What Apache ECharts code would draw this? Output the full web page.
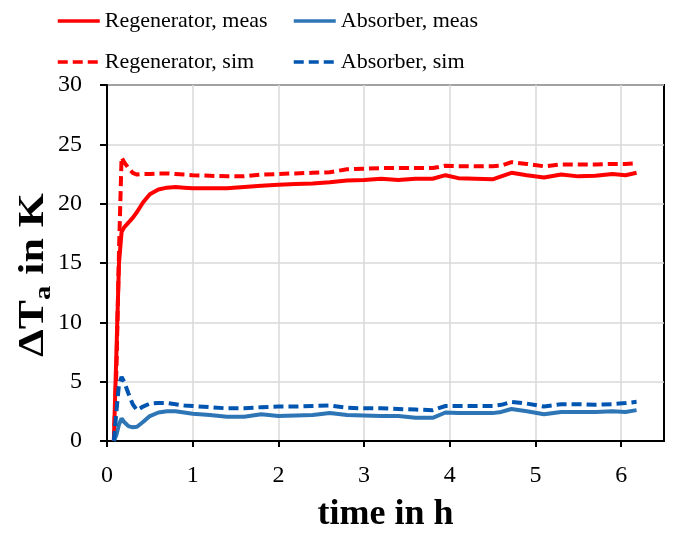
<!DOCTYPE html>
<html>
<head>
<meta charset="utf-8">
<script src="https://cdn.jsdelivr.net/npm/echarts@6/dist/echarts.min.js"></script>
<style>
  html, body { margin: 0; padding: 0; background: #fff; }
  #chart { width: 674px; height: 538px; }
</style>
</head>
<body>
<div id="chart"></div>
<script>
// time in h
const hours = [0.08, 0.11, 0.14, 0.17, 0.2, 0.25, 0.3, 0.35, 0.42, 0.5, 0.6, 0.7, 0.8, 0.9, 1.0,
  1.2, 1.4, 1.6, 1.8, 2.0, 2.2, 2.4, 2.6, 2.8, 3.0, 3.2, 3.4, 3.6, 3.8, 3.95, 4.1, 4.3, 4.5,
  4.6, 4.72, 4.9, 5.1, 5.3, 5.5, 5.7, 5.9, 6.05, 6.18];

const regenMeas = [0, 7.5, 15, 17.6, 18.0, 18.4, 18.8, 19.3, 20.1, 20.8, 21.2, 21.35, 21.4, 21.35, 21.3,
  21.3, 21.3, 21.4, 21.5, 21.6, 21.65, 21.7, 21.8, 21.95, 22.0, 22.1, 22.0, 22.1, 22.1, 22.4, 22.15, 22.1, 22.05,
  22.3, 22.6, 22.4, 22.2, 22.45, 22.3, 22.35, 22.5, 22.4, 22.6];

const regenSim = [0, 6, 16, 23.9, 23.5, 23.0, 22.6, 22.45, 22.5, 22.5, 22.55, 22.55, 22.5, 22.45, 22.4,
  22.35, 22.3, 22.3, 22.45, 22.5, 22.55, 22.6, 22.65, 22.9, 22.95, 23.0, 23.0, 23.0, 23.0, 23.2, 23.15, 23.15, 23.15,
  23.2, 23.5, 23.35, 23.15, 23.3, 23.3, 23.3, 23.35, 23.35, 23.4];

const absMeas = [0, 0.5, 1.4, 1.9, 1.6, 1.25, 1.15, 1.2, 1.6, 2.1, 2.4, 2.5, 2.5, 2.4, 2.3,
  2.2, 2.05, 2.05, 2.25, 2.1, 2.15, 2.2, 2.35, 2.2, 2.15, 2.1, 2.1, 1.95, 1.95, 2.4, 2.35, 2.35, 2.35,
  2.45, 2.7, 2.5, 2.25, 2.45, 2.45, 2.45, 2.5, 2.45, 2.6];

const absSim = [0, 2.5, 4.8, 5.4, 5.0, 4.0, 3.1, 2.6, 2.9, 3.15, 3.2, 3.2, 3.1, 3.0, 2.95,
  2.85, 2.75, 2.75, 2.85, 2.9, 2.9, 2.95, 3.0, 2.8, 2.75, 2.75, 2.7, 2.65, 2.6, 2.95, 2.95, 2.95, 2.95,
  3.05, 3.3, 3.15, 2.9, 3.1, 3.1, 3.05, 3.1, 3.2, 3.3];

const xTicks = [0, 1, 2, 3, 4, 5, 6];

const pairs = function (ys) {
  return hours.map(function (t, i) { return [t, ys[i]]; });
};

const serif = '"Liberation Serif", "Times New Roman", serif';
const red = '#ff0000';
const blueSolid = '#2e75b6';
const blueDash = '#0055b0';

const chart = echarts.init(document.getElementById('chart'));

const mkSeries = function (name, ys, color, dashed) {
  return {
    name: name,
    type: 'line',
    data: pairs(ys),
    showSymbol: false,
    symbol: 'none',
    smooth: false,
    lineStyle: {color: color, width: 4, type: dashed ? [10, 5] : 'solid'},
    itemStyle: {color: color}
  };
};

const legendBase = {
  orient: 'vertical',
  top: 5,
  itemWidth: 42,
  itemHeight: 14,
  itemGap: 19,
  itemStyle: {opacity: 0},
  lineStyle: {width: 3.5},
  textStyle: {fontFamily: serif, fontSize: 22, color: '#000', lineHeight: 22}
};

const option = {
  animation: false,
  legend: [
    Object.assign({}, legendBase, {left: 51, data: ['Regenerator, meas', 'Regenerator, sim']}),
    Object.assign({}, legendBase, {left: 287, data: ['Absorber, meas', 'Absorber, sim']})
  ],
  grid: {
    left: 107, top: 85, right: 10, bottom: 95,
    show: true, borderColor: '#000', borderWidth: 2, containLabel: false
  },
  // stretched y-axis title, as in the original figure
  graphic: [{
    type: 'text',
    x: 36,
    y: 275,
    rotation: Math.PI / 2,
    scaleX: 1.25,
    style: {
      text: '{b|ΔT}{s|a}{b| in K}',
      align: 'center',
      verticalAlign: 'middle',
      rich: {
        b: {fontFamily: serif, fontSize: 35, fontWeight: 'bold', fill: '#000', lineHeight: 40, verticalAlign: 'top'},
        s: {fontFamily: serif, fontSize: 23, fontWeight: 'bold', fill: '#000', lineHeight: 23, verticalAlign: 'bottom'}
      }
    }
  }],
  xAxis: {
    type: 'value',
    min: 0,
    max: 6.5,
    interval: 1,
    name: 'time in h',
    nameLocation: 'middle',
    nameGap: 56,
    nameTextStyle: {fontFamily: serif, fontSize: 36, fontWeight: 'bold', color: '#000'},
    axisLine: {show: true, onZero: false, lineStyle: {color: '#000', width: 2}},
    axisTick: {show: true, inside: false, length: 6, lineStyle: {color: '#000', width: 2}, customValues: xTicks},
    axisLabel: {fontFamily: serif, fontSize: 24, color: '#000', margin: 23, customValues: xTicks},
    splitLine: {show: true, lineStyle: {color: '#d9d9d9', width: 1.5}}
  },
  yAxis: {
    type: 'value',
    min: 0,
    max: 30,
    interval: 5,
    axisLine: {show: true, lineStyle: {color: '#000', width: 2}},
    axisTick: {show: true, inside: false, length: 7, lineStyle: {color: '#000', width: 2}},
    axisLabel: {fontFamily: serif, fontSize: 24, color: '#000', margin: 25},
    splitLine: {show: true, lineStyle: {color: '#d9d9d9', width: 1.5}}
  },
  series: [
    mkSeries('Regenerator, meas', regenMeas, red, false),
    mkSeries('Absorber, meas', absMeas, blueSolid, false),
    mkSeries('Regenerator, sim', regenSim, red, true),
    mkSeries('Absorber, sim', absSim, blueDash, true)
  ]
};

chart.setOption(option);
</script>
</body>
</html>
